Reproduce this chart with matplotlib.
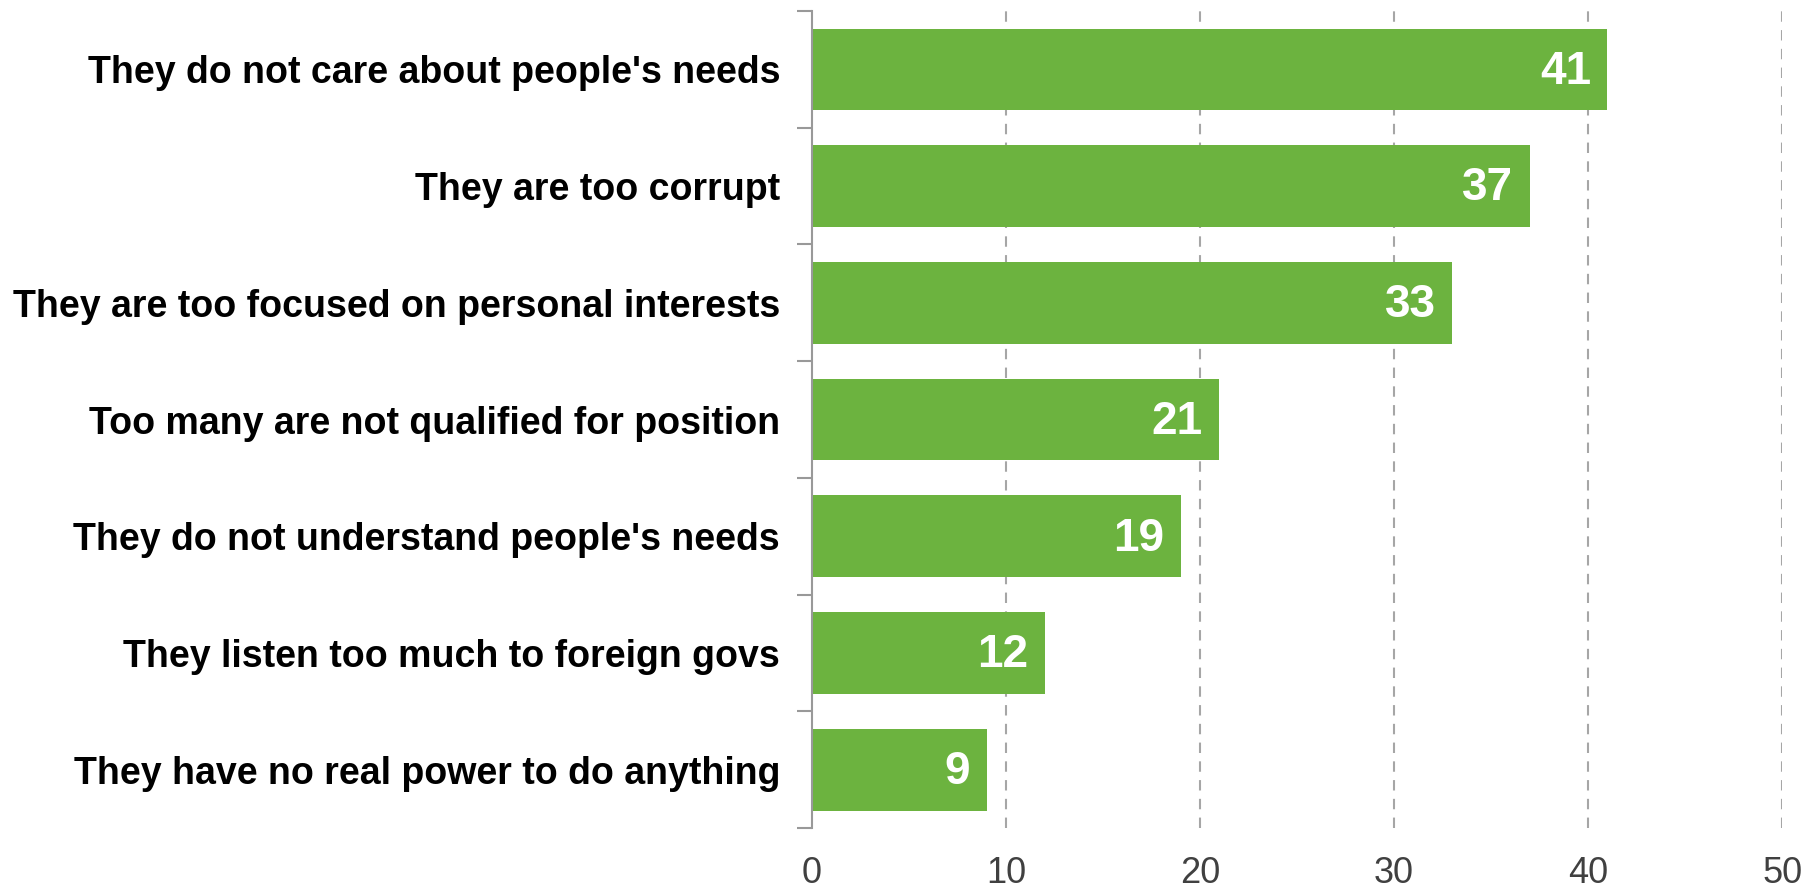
import matplotlib.pyplot as plt
import numpy as np

# Chart data
categories = [
    "They do not care about people's needs",
    "They are too corrupt",
    "They are too focused on personal interests",
    "Too many are not qualified for position",
    "They do not understand people's needs",
    "They listen too much to foreign govs",
    "They have no real power to do anything",
]
values = [41, 37, 33, 21, 19, 12, 9]
x_ticks = [0, 10, 20, 30, 40, 50]

BAR_COLOR = "#6CB33F"
GREY = "#999999"

fig = plt.figure(figsize=(18.14, 8.89), dpi=100)
ax = fig.add_axes([0.4476, 0.0686, 0.9824 - 0.4476, 0.9876 - 0.0686])

pos = np.arange(len(categories))
ax.barh(pos, values, height=0.70, color=BAR_COLOR, zorder=2)
ax.set_ylim(len(categories) - 0.5, -0.5)
ax.set_xlim(0, 50)

# value labels inside bar ends
for p, v in zip(pos, values):
    ax.text(v - 0.85, p + 0.02, str(v), ha="right", va="center", color="white",
            fontsize=33, fontweight="bold", family="Liberation Sans", zorder=3)

# category labels
ax.set_yticks(pos)
ax.set_yticklabels(categories, fontsize=27, fontweight="bold", family="Liberation Sans")
ax.set_yticks(np.arange(len(categories) + 1) - 0.5, minor=True)
ax.tick_params(axis="y", which="major", length=0, pad=23)
ax.tick_params(axis="y", which="minor", length=11, width=1.5, color=GREY)

# x axis
ax.set_xticks(x_ticks)
ax.set_xticklabels([str(t) for t in x_ticks], fontsize=26, color="#404040",
                   family=["Liberation Sans Narrow", "Liberation Sans"])
ax.tick_params(axis="x", length=0, pad=20)

for t in x_ticks[1:]:
    ax.axvline(t, color="#A6A6A6", linestyle=(0, (5, 4)), linewidth=1.5, zorder=1)

for s in ["top", "right", "bottom"]:
    ax.spines[s].set_visible(False)
ax.spines["left"].set_color(GREY)
ax.spines["left"].set_linewidth(1.5)

fig.savefig("out.png", dpi=100)
